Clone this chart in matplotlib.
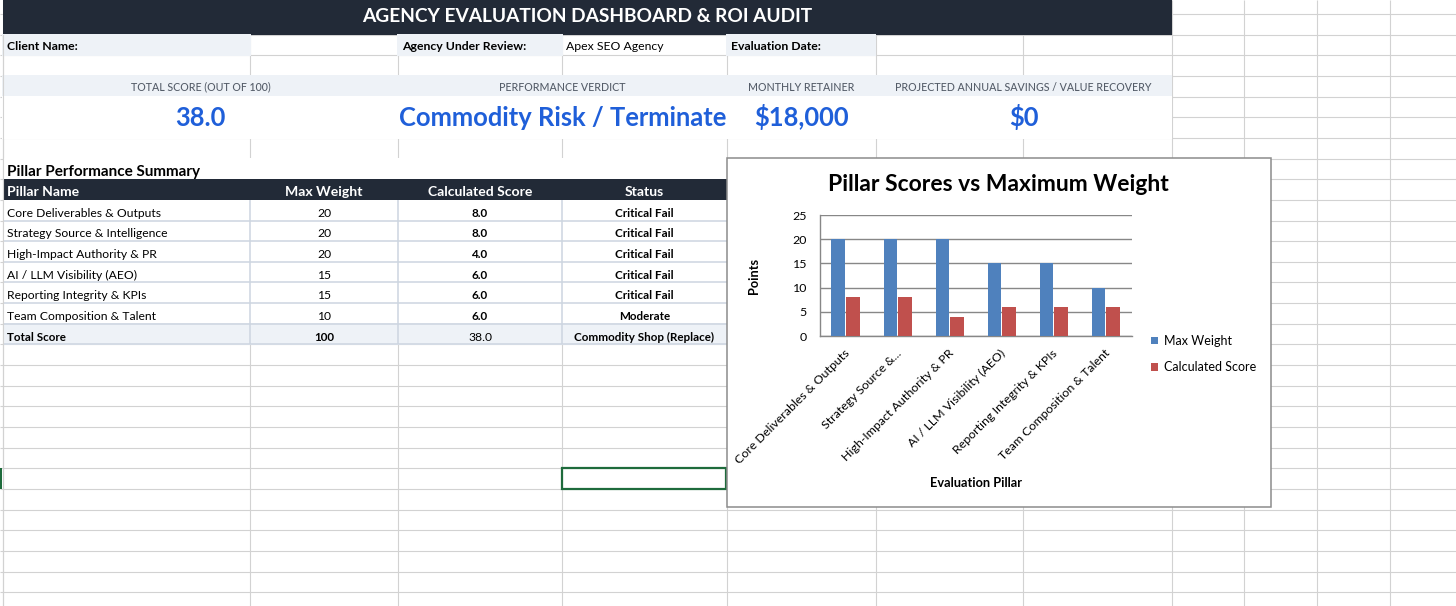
import numpy as np
import matplotlib
matplotlib.use("Agg")
import matplotlib.pyplot as plt
import matplotlib.transforms as mtransforms
from matplotlib.patches import Rectangle

plt.rcParams['font.family'] = ['Lato', 'DejaVu Sans']

# ---------------- data ----------------
dashboard_title = "AGENCY EVALUATION DASHBOARD & ROI AUDIT"
info_labels = ["Client Name:", "Agency Under Review:", "Evaluation Date:"]
info_values = ["", "Apex SEO Agency", ""]
kpi_labels = ["TOTAL SCORE (OUT OF 100)", "PERFORMANCE VERDICT",
              "MONTHLY RETAINER", "PROJECTED ANNUAL SAVINGS / VALUE RECOVERY"]
kpi_values = ["38.0", "Commodity Risk / Terminate", "$18,000", "$0"]
table_title = "Pillar Performance Summary"
table_headers = ["Pillar Name", "Max Weight", "Calculated Score", "Status"]
pillars = ["Core Deliverables & Outputs", "Strategy Source & Intelligence",
           "High-Impact Authority & PR", "AI / LLM Visibility (AEO)",
           "Reporting Integrity & KPIs", "Team Composition & Talent"]
chart_labels = ["Core Deliverables & Outputs", "Strategy Source &...",
                "High-Impact Authority & PR", "AI / LLM Visibility (AEO)",
                "Reporting Integrity & KPIs", "Team Composition & Talent"]
max_weight = [20, 20, 20, 15, 15, 10]
calc_score = [8.0, 8.0, 4.0, 6.0, 6.0, 6.0]
status = ["Critical Fail", "Critical Fail", "Critical Fail",
          "Critical Fail", "Critical Fail", "Moderate"]
total_row = ["Total Score", "100", "38.0", "Commodity Shop (Replace)"]
chart_title = "Pillar Scores vs Maximum Weight"
series_names = ["Max Weight", "Calculated Score"]
y_ticks = [0, 5, 10, 15, 20, 25]
x_axis_title = "Evaluation Pillar"
y_axis_title = "Points"

# ---------------- style ----------------
S_TITLE = 13.8
S_INFO = 8.8
S_KPI = 7.7
S_BIG = 18.4
S_TTITLE = 11.0
S_HDR = 10.1
S_BODY = 8.75
S_BODYB = 8.4
S_CTITLE = 16.5
S_TICK = 8.9
S_AXT = 9.2
S_LEG = 9.0

NAVY = '#222a37'
LIGHT = '#eef2f7'
BLUE_TXT = '#1f5fd9'
KPI_GRAY = '#555d69'
GRID = '#d2d2d2'
TLINE = '#cdd5e0'
GREEN = '#1e6b3c'
C_BLUE = '#4f81bd'
C_RED = '#c0504d'
C_GRID = '#878787'

W, H = 1456, 606
fig = plt.figure(figsize=(W / 100, H / 100), dpi=100)
sheet = fig.add_axes([0, 0, 1, 1])
sheet.set_xlim(0, W)
sheet.set_ylim(H, 0)
sheet.axis('off')

COLS = [3, 250, 398, 562, 727, 875.5, 1023, 1171.5, 1244, 1317, 1389.5, 1462]
ROW0, ROWH = 14.0, 20.65


def ry(k):
    return ROW0 + ROWH * k


# spreadsheet grid
for x in COLS:
    sheet.plot([x, x], [0, H], color=GRID, lw=0.8, zorder=1, solid_capstyle='butt')
for k in range(-1, 30):
    sheet.plot([0, W], [ry(k), ry(k)], color=GRID, lw=0.8, zorder=1, solid_capstyle='butt')


def cell(x0, x1, y0, y1, fc, ext=0.8, z=2):
    sheet.add_patch(Rectangle((x0 - ext, y0 - ext), x1 - x0 + 2 * ext, y1 - y0 + 2 * ext,
                              facecolor=fc, edgecolor='none', zorder=z))


# title bar
cell(3, COLS[7], -5, ry(1), NAVY, ext=0.3)
sheet.text((3 + COLS[7]) / 2, 22.5, dashboard_title, color='white', fontweight='bold',
           fontsize=S_TITLE, ha='center', va='baseline', zorder=4)

# info row
info_cols = [0, 2, 4]
for lab, val, ci in zip(info_labels, info_values, info_cols):
    cell(COLS[ci], COLS[ci + 1], ry(1), ry(2), LIGHT)
    sheet.text(COLS[ci] + 4, ry(2) - 5, lab, fontweight='bold', fontsize=S_INFO,
               ha='left', va='baseline', zorder=4, color='black')
    if val:
        sheet.text(COLS[ci + 1] + 4, ry(2) - 5, val, fontsize=S_INFO,
                   ha='left', va='baseline', zorder=4, color='black')

# KPI labels and values
kpi_spans = [(COLS[0], COLS[2]), (COLS[2], COLS[4]), (COLS[4], COLS[5]), (COLS[5], COLS[7])]
cell(COLS[0], COLS[7], ry(3), ry(4), LIGHT)
cell(COLS[0], COLS[7], ry(4), ry(6), 'white')
for lab, val, (x0, x1) in zip(kpi_labels, kpi_values, kpi_spans):
    cx = (x0 + x1) / 2
    sheet.text(cx, ry(4) - 6, lab, color=KPI_GRAY, fontsize=S_KPI, fontweight='medium',
               ha='center', va='baseline', zorder=4)
    sheet.text(cx, 126, val, color=BLUE_TXT, fontsize=S_BIG, fontweight='bold',
               ha='center', va='baseline', zorder=4)

# table title
cell(COLS[0], COLS[4], ry(7), ry(8), 'white', ext=0.3)
sheet.text(7, ry(8) - 3.5, table_title, fontsize=S_TTITLE, fontweight='bold',
           ha='left', va='baseline', zorder=4, color='black')

# header
cell(COLS[0], COLS[4], ry(8), ry(9), NAVY, ext=0.3)
col_centers = [(COLS[i] + COLS[i + 1]) / 2 for i in range(4)]
for i, hdr in enumerate(table_headers):
    if i == 0:
        sheet.text(COLS[0] + 4, ry(9) - 4, hdr, color='white', fontweight='bold',
                   fontsize=S_HDR, ha='left', va='baseline', zorder=4)
    else:
        sheet.text(col_centers[i], ry(9) - 4, hdr, color='white', fontweight='bold',
                   fontsize=S_HDR, ha='center', va='baseline', zorder=4)

# body rows
n = len(pillars)
cell(COLS[0], COLS[4], ry(9), ry(9 + n), 'white', ext=0.3)
cell(COLS[0], COLS[4], ry(9 + n), ry(10 + n), LIGHT, ext=0.3)
for k in range(10, 11 + n):
    sheet.plot([COLS[0], COLS[4]], [ry(k), ry(k)], color=TLINE, lw=1.1, zorder=3,
               solid_capstyle='butt')
for x in COLS[1:4]:
    sheet.plot([x, x], [ry(9), ry(10 + n)], color=TLINE, lw=1.1, zorder=3,
               solid_capstyle='butt')

for r in range(n):
    yb = ry(10 + r) - 3.8
    sheet.text(COLS[0] + 4, yb, pillars[r], fontsize=S_BODY, ha='left', va='baseline',
               zorder=4, color='black')
    sheet.text(col_centers[1], yb, f"{max_weight[r]:d}", fontsize=S_BODY, ha='center',
               va='baseline', zorder=4, color='black')
    sheet.text(col_centers[2], yb, f"{calc_score[r]:.1f}", fontsize=S_BODYB,
               fontweight='bold', ha='center', va='baseline', zorder=4, color='black')
    sheet.text(col_centers[3], yb, status[r], fontsize=S_BODYB, fontweight='bold',
               ha='center', va='baseline', zorder=4, color='black')
yb = ry(10 + n) - 3.8
sheet.text(COLS[0] + 4, yb, total_row[0], fontsize=S_BODYB, fontweight='bold',
           ha='left', va='baseline', zorder=4, color='black')
sheet.text(col_centers[1], yb, total_row[1], fontsize=S_BODYB, fontweight='bold',
           ha='center', va='baseline', zorder=4, color='black')
sheet.text(col_centers[2], yb, total_row[2], fontsize=S_BODY,
           ha='center', va='baseline', zorder=4, color='black')
sheet.text(col_centers[3], yb, total_row[3], fontsize=S_BODYB, fontweight='bold',
           ha='center', va='baseline', zorder=4, color='black')

# left border line stays visible
sheet.plot([COLS[0], COLS[0]], [ry(1), H], color=GRID, lw=0.8, zorder=3)

# selected cell
sheet.add_patch(Rectangle((COLS[3], ry(22)), COLS[4] - COLS[3] - 1, ROWH,
                          facecolor='none', edgecolor=GREEN, lw=1.6, zorder=4))
sheet.add_patch(Rectangle((0, ry(22)), 2.2, ROWH, facecolor=GREEN, edgecolor='none', zorder=4))

# ---------------- chart ----------------
CB_X0, CB_Y0, CB_X1, CB_Y1 = 727, 157.5, 1271, 507
sheet.add_patch(Rectangle((CB_X0, CB_Y0), CB_X1 - CB_X0, CB_Y1 - CB_Y0, facecolor='white',
                          edgecolor='#8c8c8c', lw=1.1, zorder=5))
sheet.text(998.5, 191, chart_title, fontsize=S_CTITLE, fontweight='bold', ha='center',
           va='baseline', zorder=6, color='black')
sheet.text(754, 276, y_axis_title, fontsize=S_AXT, fontweight='bold', rotation=90,
           ha='center', va='center', zorder=6, color='black')
sheet.text(976, 483, x_axis_title, fontsize=S_AXT, fontweight='bold', ha='center',
           va='center', zorder=6, color='black')

PX0, PX1, PY0, PY1 = 819.5, 1131.7, 215, 336
ax = fig.add_axes([PX0 / W, 1 - PY1 / H, (PX1 - PX0) / W, (PY1 - PY0) / H])
ax.patch.set_alpha(0)
xs = np.arange(len(chart_labels))
bw = 0.26
b1 = ax.bar(xs - 0.14, max_weight, bw, color=C_BLUE, zorder=3, label=series_names[0])
b2 = ax.bar(xs + 0.14, calc_score, bw, color=C_RED, zorder=3, label=series_names[1])
ax.set_xlim(-0.5, len(xs) - 0.5)
ax.set_ylim(0, 25)
ax.set_yticks(y_ticks)
ax.yaxis.grid(True, color=C_GRID, lw=1.0)
ax.set_axisbelow(True)
for s in ['top', 'right']:
    ax.spines[s].set_visible(False)
for s in ['left', 'bottom']:
    ax.spines[s].set_color(C_GRID)
    ax.spines[s].set_linewidth(1.0)
ax.tick_params(axis='y', length=0, pad=9, labelsize=S_TICK)
ax.set_xticks(xs)
ax.set_xticklabels(chart_labels, rotation=45, ha='right', va='center',
                   rotation_mode='anchor', fontsize=S_TICK)
ax.tick_params(axis='x', length=0, pad=11)
off = mtransforms.ScaledTranslation(2 / 100, 0, fig.dpi_scale_trans)
for lbl in ax.get_xticklabels():
    lbl.set_transform(lbl.get_transform() + off)

leg = ax.legend(handles=[b1, b2], labels=series_names, loc='upper left',
                bbox_to_anchor=(1151, 335), bbox_transform=sheet.transData,
                frameon=False, fontsize=S_LEG, handlelength=0.55, handleheight=0.55,
                handletextpad=0.45, labelspacing=1.15, borderpad=0, borderaxespad=0)

fig.savefig("out.png", dpi=100)
